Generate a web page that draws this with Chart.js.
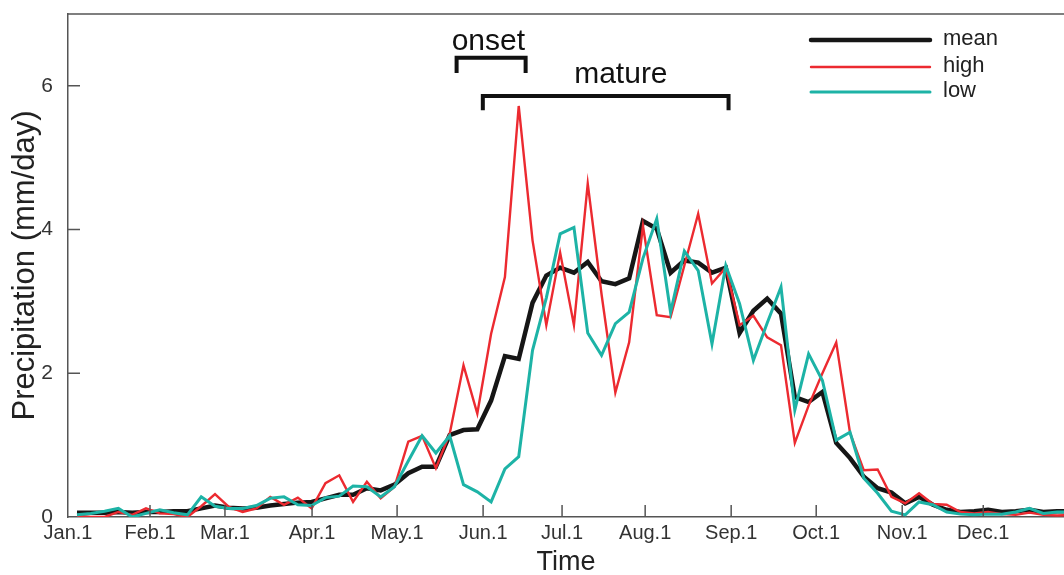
<!DOCTYPE html>
<html>
<head>
<meta charset="utf-8">
<script src="https://cdn.jsdelivr.net/npm/chart.js@4.4.0/dist/chart.umd.min.js"></script>
<style>
html, body { margin: 0; padding: 0; background: #fff; }
#wrap { width: 1064px; height: 575px; }
</style>
</head>
<body>
<div id="wrap"><canvas id="chart-precip" width="1064" height="575"></canvas></div>
<script>
// pentad precipitation (mm/day), 73 pentads
const meanRain = [
    0.06, 0.06, 0.06, 0.07, 0.06, 0.07, 0.07, 0.08, 0.08, 0.12,
    0.16, 0.13, 0.12, 0.13, 0.16, 0.18, 0.20, 0.21, 0.26, 0.31,
    0.31, 0.40, 0.37, 0.45, 0.61, 0.70, 0.70, 1.14, 1.21, 1.22,
    1.62, 2.24, 2.20, 2.98, 3.36, 3.47, 3.40, 3.55, 3.28, 3.24,
    3.32, 4.12, 4.01, 3.40, 3.57, 3.54, 3.40, 3.47, 2.56, 2.87,
    3.04, 2.83, 1.67, 1.60, 1.74, 1.03, 0.82, 0.56, 0.40, 0.34,
    0.19, 0.28, 0.17, 0.10, 0.07, 0.08, 0.10, 0.07, 0.08, 0.10,
    0.07, 0.08, 0.08
];
const highRain = [
    0.02, 0.00, 0.00, 0.07, 0.03, 0.12, 0.05, 0.04, 0.00, 0.15,
    0.32, 0.14, 0.07, 0.12, 0.28, 0.17, 0.27, 0.12, 0.47, 0.58,
    0.21, 0.49, 0.26, 0.42, 1.05, 1.13, 0.68, 1.16, 2.11, 1.44,
    2.55, 3.34, 5.72, 3.85, 2.67, 3.68, 2.67, 4.64, 3.10, 1.73,
    2.43, 4.05, 2.81, 2.78, 3.50, 4.22, 3.25, 3.47, 2.67, 2.80,
    2.50, 2.39, 1.03, 1.55, 2.00, 2.43, 1.17, 0.65, 0.66, 0.28,
    0.19, 0.33, 0.18, 0.17, 0.07, 0.05, 0.07, 0.04, 0.03, 0.06,
    0.03, 0.02, 0.03
];
const lowRain = [
    0.03, 0.05, 0.08, 0.12, 0.00, 0.05, 0.10, 0.06, 0.03, 0.28,
    0.15, 0.12, 0.12, 0.16, 0.26, 0.28, 0.17, 0.16, 0.27, 0.29,
    0.43, 0.42, 0.28, 0.42, 0.78, 1.13, 0.89, 1.13, 0.45, 0.35,
    0.21, 0.67, 0.84, 2.32, 3.05, 3.94, 4.03, 2.56, 2.25, 2.69,
    2.85, 3.60, 4.15, 2.85, 3.70, 3.43, 2.41, 3.50, 2.97, 2.18,
    2.70, 3.20, 1.49, 2.27, 1.90, 1.07, 1.18, 0.54, 0.33, 0.08,
    0.03, 0.21, 0.17, 0.07, 0.04, 0.03, 0.04, 0.04, 0.07, 0.12,
    0.05, 0.07, 0.07
];

const monthLabels = ['Jan.1', 'Feb.1', 'Mar.1', 'Apr.1', 'May.1', 'Jun.1',
                     'Jul.1', 'Aug.1', 'Sep.1', 'Oct.1', 'Nov.1', 'Dec.1'];
// month starts, in pentad index units
const monthTicks = [-0.65, 5.29, 10.72, 17.03, 23.19, 29.42,
                    35.14, 41.16, 47.39, 53.55, 59.78, 65.65];
const yTicks = [0, 2, 4, 6];

const FONT = '"Liberation Sans", Arial, Helvetica, sans-serif';
const AXIS_COLOR = '#555';
Chart.defaults.font.family = FONT;

function toPoints(arr) {
    return arr.map((v, i) => ({ x: i, y: v }));
}

// axis frame top line + inward tick marks
const frameTicks = {
    id: 'frameTicks',
    afterDraw(chart) {
        const { ctx, chartArea: a, scales } = chart;
        ctx.save();
        ctx.strokeStyle = AXIS_COLOR;
        ctx.lineWidth = 1.5;
        ctx.beginPath();
        ctx.moveTo(a.left, a.top);
        ctx.lineTo(a.right, a.top);
        scales.x.ticks.forEach((t, i) => {
            const px = scales.x.getPixelForTick(i);
            if (px - a.left < 3) return;
            ctx.moveTo(px, a.bottom);
            ctx.lineTo(px, a.bottom - 12);
        });
        scales.y.ticks.forEach((t, i) => {
            const py = scales.y.getPixelForTick(i);
            if (a.bottom - py < 3) return;
            ctx.moveTo(a.left, py);
            ctx.lineTo(a.left + 12, py);
        });
        ctx.stroke();
        ctx.restore();
    }
};

// onset / mature brackets
const phases = [
    { text: 'onset', from: 27.5, to: 32.5, top: 6.39, foot: 6.18, textX: 29.8, textY: 6.61 },
    { text: 'mature', from: 29.4, to: 47.2, top: 5.86, foot: 5.66, textX: 39.4, textY: 6.15 }
];
const phaseBrackets = {
    id: 'phaseBrackets',
    afterDatasetsDraw(chart) {
        const { ctx, scales: { x, y } } = chart;
        ctx.save();
        ctx.strokeStyle = '#111';
        ctx.lineWidth = 4;
        ctx.lineJoin = 'miter';
        ctx.fillStyle = '#111';
        ctx.font = '30px ' + FONT;
        ctx.textAlign = 'center';
        ctx.textBaseline = 'middle';
        phases.forEach(p => {
            ctx.beginPath();
            ctx.moveTo(x.getPixelForValue(p.from), y.getPixelForValue(p.foot));
            ctx.lineTo(x.getPixelForValue(p.from), y.getPixelForValue(p.top));
            ctx.lineTo(x.getPixelForValue(p.to), y.getPixelForValue(p.top));
            ctx.lineTo(x.getPixelForValue(p.to), y.getPixelForValue(p.foot));
            ctx.stroke();
            ctx.fillText(p.text, x.getPixelForValue(p.textX), y.getPixelForValue(p.textY));
        });
        ctx.restore();
    }
};

// legend in the top right corner
const lineLegend = {
    id: 'lineLegend',
    afterDraw(chart) {
        const { ctx } = chart;
        ctx.save();
        ctx.font = '22px ' + FONT;
        ctx.textBaseline = 'middle';
        ctx.fillStyle = '#222';
        const rows = [40, 67, 92];
        const order = ['mean', 'high', 'low'];
        order.forEach((name, r) => {
            const ds = chart.data.datasets.find(d => d.label === name);
            ctx.strokeStyle = ds.borderColor;
            ctx.lineWidth = ds.borderWidth;
            ctx.lineCap = 'round';
            ctx.beginPath();
            ctx.moveTo(811, rows[r]);
            ctx.lineTo(930, rows[r]);
            ctx.stroke();
            ctx.fillText(name, 943, rows[r] - 1);
        });
        ctx.restore();
    }
};

const ctx = document.getElementById('chart-precip').getContext('2d');
new Chart(ctx, {
    type: 'line',
    data: {
        datasets: [
            {
                label: 'low',
                data: toPoints(lowRain),
                borderColor: '#1db3a6',
                borderWidth: 3,
                order: 1
            },
            {
                label: 'high',
                data: toPoints(highRain),
                borderColor: '#ec2a30',
                borderWidth: 2.4,
                order: 2
            },
            {
                label: 'mean',
                data: toPoints(meanRain),
                borderColor: '#161616',
                borderWidth: 4.5,
                order: 3
            }
        ]
    },
    options: {
        responsive: false,
        animation: false,
        devicePixelRatio: 1,
        elements: {
            point: { radius: 0 },
            line: { tension: 0, borderJoinStyle: 'miter' }
        },
        layout: { padding: { top: 14, right: 0, left: 0, bottom: 0 } },
        scales: {
            x: {
                type: 'linear',
                min: -0.65,
                max: 71.5,
                afterBuildTicks: s => { s.ticks = monthTicks.map(v => ({ value: v })); },
                afterFit: s => { s.height = 58; s.paddingLeft = 0; s.paddingRight = 0; },
                grid: { display: false, drawTicks: false },
                border: { display: true, color: AXIS_COLOR, width: 1.5 },
                ticks: {
                    autoSkip: false,
                    maxRotation: 0,
                    padding: 4,
                    color: '#333',
                    font: { size: 20 },
                    callback: (v, i) => monthLabels[i]
                },
                title: {
                    display: true,
                    text: 'Time',
                    color: '#222',
                    font: { size: 27, lineHeight: 0.9 },
                    padding: 0
                }
            },
            y: {
                min: 0,
                max: 7,
                afterBuildTicks: s => { s.ticks = yTicks.map(v => ({ value: v })); },
                afterFit: s => { s.width = 68; s.paddingTop = 0; s.paddingBottom = 0; },
                grid: { display: false, drawTicks: false },
                border: { display: true, color: AXIS_COLOR, width: 1.5 },
                ticks: {
                    padding: 15,
                    color: '#333',
                    font: { size: 21 },
                    callback: v => String(v)
                },
                title: {
                    display: true,
                    text: 'Precipitation (mm/day)',
                    color: '#222',
                    font: { size: 31, lineHeight: 1.2 },
                    padding: { top: 7, bottom: 0 }
                }
            }
        },
        plugins: {
            legend: { display: false },
            tooltip: { enabled: false }
        }
    },
    plugins: [frameTicks, phaseBrackets, lineLegend]
});
</script>
</body>
</html>
